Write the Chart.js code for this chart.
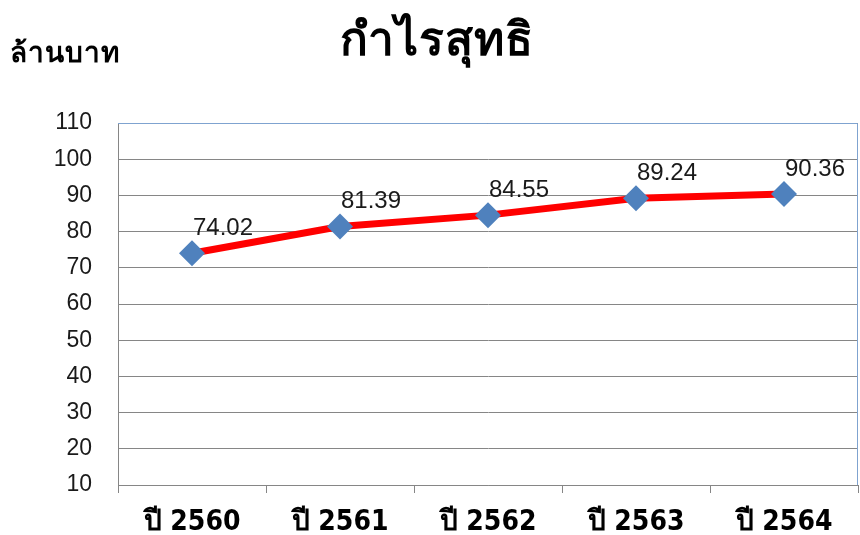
<!DOCTYPE html>
<html><head><meta charset="utf-8">
<script src="https://cdn.jsdelivr.net/npm/chart.js@4/dist/chart.umd.min.js"></script>
<style>
html,body{margin:0;padding:0;background:#fff;}
#wrap{position:relative;width:860px;height:535px;overflow:hidden;}
#title{position:absolute;left:0;width:874px;top:2px;text-align:center;font:bold 46px "Noto Sans","DejaVu Sans",sans-serif;letter-spacing:1px;color:#000;}
#unit{position:absolute;left:10px;top:30px;font:bold 28px "Noto Sans","DejaVu Sans",sans-serif;letter-spacing:1px;color:#000;}
canvas{position:absolute;left:0;top:0;}
</style></head>
<body><div id="wrap">
<canvas id="c" width="860" height="535"></canvas>
<div id="title">กำไรสุทธิ</div>
<div id="unit">ล้านบาท</div>
</div>
<script>
const categories = ["ปี 2560","ปี 2561","ปี 2562","ปี 2563","ปี 2564"];
const netProfit = [74.02, 81.39, 84.55, 89.24, 90.36];
const yMin = 10, yMax = 110, yStep = 10;

const labelPlugin = {
  id:'labels',
  afterDatasetsDraw(chart){
    const ctx = chart.ctx;
    const meta = chart.getDatasetMeta(0);
    ctx.save();
    ctx.font = '24px "Liberation Sans", "Open Sans", sans-serif';
    ctx.fillStyle = '#1a1a1a';
    ctx.textAlign = 'center';
    ctx.textBaseline = 'middle';
    meta.data.forEach((pt,i)=>{
      ctx.fillText(netProfit[i].toFixed(2), pt.x + 31, pt.y - 25);
    });
    ctx.restore();
  }
};
const borderPlugin = {
  id:'border',
  beforeDatasetsDraw(chart){
    const a = chart.chartArea, ctx = chart.ctx;
    ctx.save();
    ctx.strokeStyle = '#7FA3D0';
    ctx.lineWidth = 1;
    ctx.beginPath();
    ctx.moveTo(a.left, a.top + 0.5); ctx.lineTo(a.right - 0.5, a.top + 0.5); ctx.lineTo(a.right - 0.5, a.bottom);
    ctx.stroke();
    ctx.restore();
  }
};

new Chart(document.getElementById('c'), {
  type:'line',
  data:{labels:categories, datasets:[{
    data:netProfit,
    borderColor:'#FF0000', borderWidth:7,
    pointStyle:'rectRot', pointRadius:13, pointHoverRadius:13,
    pointBackgroundColor:'#4F81BD', pointBorderColor:'#4F81BD', pointBorderWidth:0,
    tension:0, clip:false
  }]},
  options:{
    responsive:false, animation:false,
    layout:{autoPadding:false, padding:{top:123,right:2,left:0,bottom:0}},
    plugins:{legend:{display:false}, tooltip:{enabled:false}, title:{display:false}},
    scales:{
      x:{
        offset:true,
        grid:{offset:true, drawOnChartArea:false, drawTicks:true, tickLength:8, color:'#868686', tickColor:'#868686'},
        border:{color:'#868686'},
        ticks:{padding:13, color:'#000', font:{family:'"Liberation Sans Narrow","DejaVu Sans Condensed",sans-serif', size:28, weight:'bold'}},
        afterFit(s){ s.height = 50; s.paddingLeft = 0; s.paddingRight = 0; }
      },
      y:{
        min:yMin, max:yMax,
        grid:{color:'#868686', drawTicks:false},
        border:{color:'#868686'},
        ticks:{stepSize:yStep, padding:26, color:'#1a1a1a', font:{family:'"Liberation Sans","Open Sans",sans-serif', size:23}},
        afterFit(s){ s.width = 118; s.paddingTop = 0; s.paddingBottom = 0; }
      }
    }
  },
  plugins:[borderPlugin, labelPlugin]
});
</script>
</body></html>
